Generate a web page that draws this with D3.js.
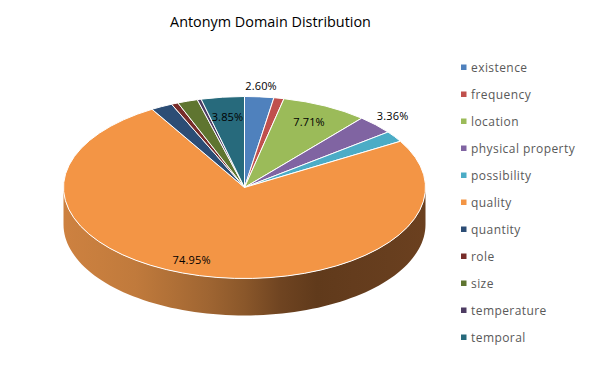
<!DOCTYPE html>
<html>
<head>
<meta charset="utf-8">
<title>Antonym Domain Distribution</title>
<script src="https://cdn.jsdelivr.net/npm/d3@7"></script>
<style>
  html, body { margin: 0; padding: 0; background: #fff; }
  svg { display: block; }
</style>
</head>
<body>
<div id="chart"></div>
<script>
// share of each domain, in percent. unlabelled slices are estimated from the picture
const categories = ["existence", "frequency", "location", "physical property", "possibility",
    "quality", "quantity", "role", "size", "temperature", "temporal"];
const shares = [2.60, 0.90, 7.71, 3.36, 1.95, 74.95, 1.93, 0.60, 1.80, 0.35, 3.85];
const labelled = ["existence", "location", "physical property", "quality", "temporal"];
const colors = ["#4f81bd", "#c0504d", "#9bbb59", "#8064a2", "#4bacc6", "#f39545",
    "#2c4d75", "#772c2a", "#5f7530", "#4d3b62", "#276a7c"];

const width = 591, height = 378;
const cx = 244.5, cy = 187.5, rx = 181, ry = 91, depth = 37;

// where each label sits along its slice's mid angle, 1 = on the rim
const labelRadius = { existence: 1.12, location: 0.8, "physical property": 1.13, quality: 0.82, temporal: 0.78 };
const labelNudge = { quality: -16 };

const svg = d3.select("#chart").append("svg")
    .attr("width", width)
    .attr("height", height)
    .style("font-family", "'Open Sans', sans-serif");

svg.append("text")
    .attr("x", 270.5)
    .attr("y", 27)
    .attr("text-anchor", "middle")
    .style("font-size", "14.4px")
    .style("fill", "#000")
    .text("Antonym Domain Distribution");

// pie
let pie = d3.pie().sort(null).value((d) => d.share);
let slices = pie(categories.map((c, i) => ({ name: c, share: shares[i], color: colors[i] })));

let xPos = d3.scaleLinear().domain([-1, 1]).range([cx - rx, cx + rx]);
let yPos = d3.scaleLinear().domain([-1, 1]).range([cy - ry, cy + ry]);

// side wall, only the lower half of the rim can be seen
let wallColor = d3.scaleLinear()
    .domain([0, 0.2, 0.45, 0.66, 1])
    .range(["#cd8140", "#c07a3c", "#97602f", "#5f391b", "#6b401f"]);

let defs = svg.append("defs");
let wallGradient = defs.append("linearGradient")
    .attr("id", "wall");
d3.range(0, 1.01, 0.1).forEach((t) => {
    wallGradient.append("stop")
        .attr("offset", t)
        .attr("stop-color", wallColor(t));
});

let rimAngles = d3.range(0, 181, 2).map((d) => (d * Math.PI) / 180);
let wall = d3.area()
    .x((a) => xPos(Math.cos(a)))
    .y0((a) => yPos(Math.sin(a)))
    .y1((a) => yPos(Math.sin(a)) + depth);

svg.append("path")
    .attr("d", wall(rimAngles))
    .attr("fill", "url(#wall)");

// top face is a normal arc squashed into an ellipse
let arc = d3.arc().innerRadius(0).outerRadius(rx);

let topFace = svg.append("g")
    .attr("transform", "translate(" + cx + "," + cy + ") scale(1," + ry / rx + ")");

topFace.selectAll("path")
    .data(slices)
    .enter()
    .append("path")
    .attr("d", arc)
    .attr("fill", (d) => d.data.color)
    .attr("stroke", "#fff")
    .attr("stroke-width", 1)
    .attr("stroke-linejoin", "round")
    .attr("vector-effect", "non-scaling-stroke");

// data labels
svg.append("g")
    .selectAll("text")
    .data(slices.filter((d) => labelled.includes(d.data.name)))
    .enter()
    .append("text")
    .attr("x", (d) => {
        let mid = (d.startAngle + d.endAngle) / 2;
        return xPos(Math.sin(mid) * labelRadius[d.data.name]) + (labelNudge[d.data.name] || 0);
    })
    .attr("y", (d) => {
        let mid = (d.startAngle + d.endAngle) / 2;
        return yPos(-Math.cos(mid) * labelRadius[d.data.name]);
    })
    .attr("dy", "0.35em")
    .attr("text-anchor", "middle")
    .style("font-size", "11px")
    .style("letter-spacing", "0.15px")
    .style("fill", "#000")
    .text((d) => d.data.share.toFixed(2) + "%");

// legend
let legendY = d3.scalePoint().domain(categories).range([67.5, 337.5]);

let legend = svg.append("g")
    .selectAll("g")
    .data(slices)
    .enter()
    .append("g")
    .attr("transform", (d) => "translate(461," + legendY(d.data.name) + ")");

legend.append("rect")
    .attr("y", -3)
    .attr("width", 5.5)
    .attr("height", 5.5)
    .attr("fill", (d) => d.data.color);

legend.append("text")
    .attr("x", 10)
    .attr("dy", "0.35em")
    .style("font-size", "12px")
    .style("letter-spacing", "0.43px")
    .style("fill", "#595959")
    .text((d) => d.data.name);
</script>
</body>
</html>
